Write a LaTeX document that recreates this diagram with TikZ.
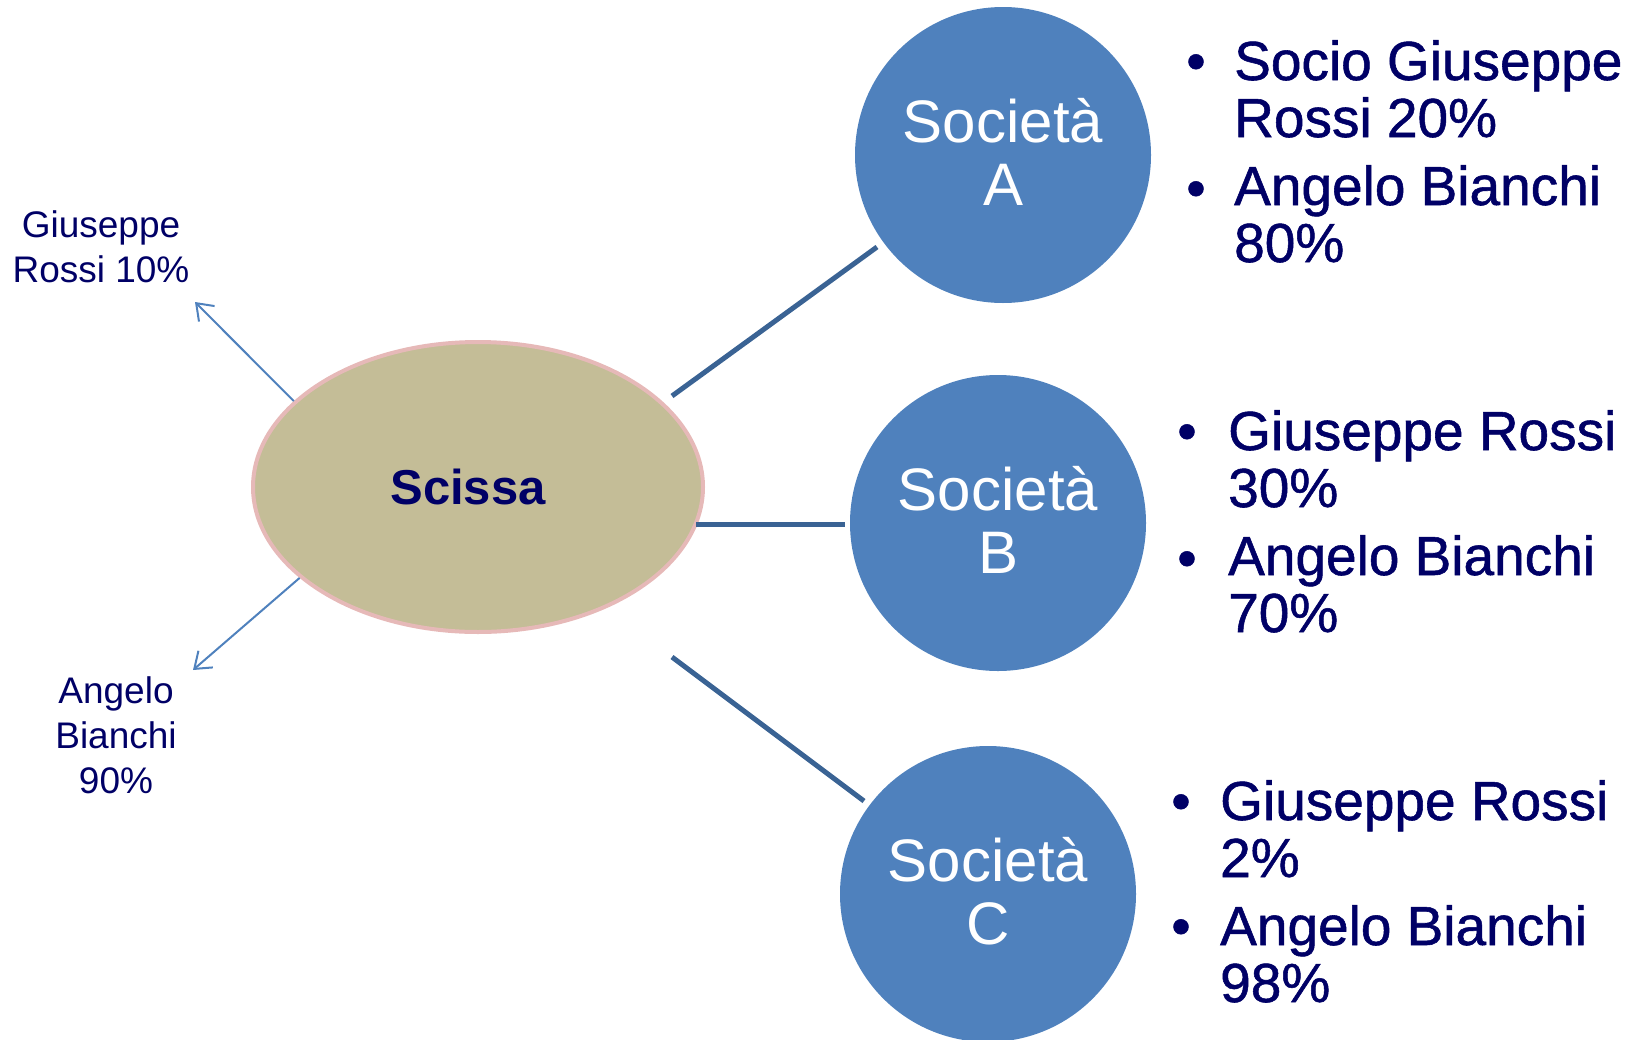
\documentclass[tikz,border=0pt]{standalone}
\usepackage{fontspec}
\setmainfont{Liberation Sans}
\newfontface\rtface[FakeBold=1]{Liberation Sans}
\usetikzlibrary{arrows.meta,shapes.geometric}
\definecolor{navy}{RGB}{0,0,102}
\definecolor{circblue}{RGB}{79,129,189}
\definecolor{connblue}{RGB}{58,99,148}
\definecolor{tanfill}{RGB}{196,189,151}
\definecolor{pinkedge}{RGB}{230,185,184}
\begin{document}
\begin{tikzpicture}[x=1pt,y=-1pt,
  soc/.style={circle, fill=circblue, minimum size=296pt, inner sep=0pt},
  soctext/.style={anchor=base, text=white, inner sep=0pt, font=\fontsize{60}{63}\selectfont},
  conn/.style={draw=connblue, line width=5pt},
  arr/.style={draw=circblue, line width=2pt, -{Straight Barb[length=15pt,width=22pt]}},
  lbl/.style={text=navy, align=center, inner sep=0pt, anchor=base, font=\fontsize{37}{45}\selectfont},
  item/.style={text=navy, anchor=base west, align=left, inner sep=0pt, font=\rtface\fontsize{55}{57}\selectfont},
  bul/.style={text=navy, anchor=base, inner sep=0pt, font=\rtface\fontsize{55}{57}\selectfont}]
\useasboundingbox (0,0) rectangle (1633,1039);

% central ellipse
\node[ellipse, fill=tanfill, draw=pinkedge, line width=4pt, minimum width=450pt, minimum height=290pt, inner sep=0pt] (scissa) at (478,487) {};
\node[text=navy, font=\bfseries\fontsize{49}{50}\selectfont, inner sep=0pt] (scissatxt) at (468,487) {Scissa};

% companies
\node[soc] (A) at (1003,155) {};
\node[soc] (B) at (998,523) {};
\node[soc] (C) at (988,894) {};
\node[soctext] (Aname) at (1003,142) {Società};
\node[soctext] (Alet) at (1003,205) {A};
\node[soctext] (Bname) at (998,510) {Società};
\node[soctext] (Blet) at (998,573) {B};
\node[soctext] (Cname) at (988,881) {Società};
\node[soctext] (Clet) at (988,944) {C};

% connectors
\coordinate (a0) at (672,396); \coordinate (a1) at (877,247);
\coordinate (b0) at (696,524); \coordinate (b1) at (845,524);
\coordinate (c0) at (672,657); \coordinate (c1) at (864,801);
\draw[conn] (a0) -- (a1);
\draw[conn] (b0) -- (b1);
\draw[conn] (c0) -- (c1);

% arrows to shareholders
\coordinate (gtip) at (195,302);
\coordinate (btip) at (193,670);
\draw[arr] (scissa.155) -- (gtip);
\draw[arr] (scissa.207) -- (btip);
\node[lbl] (glbl) at (101,282) {Giuseppe\\Rossi 10\%};
\node[lbl] (blbl) at (116,793) {Angelo\\Bianchi\\90\%};

% lists
\node[bul] (ab1) at (1196,80) {•};
\node[item] (ai1) at (1234,137) {Socio Giuseppe\\Rossi 20\%};
\node[bul] (ab2) at (1196,207) {•};
\node[item] (ai2) at (1234,262) {Angelo Bianchi\\80\%};

\node[bul] (bb1) at (1187,450) {•};
\node[item] (bi1) at (1228,507) {Giuseppe Rossi\\30\%};
\node[bul] (bb2) at (1187,577) {•};
\node[item] (bi2) at (1228,632) {Angelo Bianchi\\70\%};

\node[bul] (cb1) at (1181,820) {•};
\node[item] (ci1) at (1220,877) {Giuseppe Rossi\\2\%};
\node[bul] (cb2) at (1181,945) {•};
\node[item] (ci2) at (1220,1002) {Angelo Bianchi\\98\%};
\end{tikzpicture}
\end{document}
